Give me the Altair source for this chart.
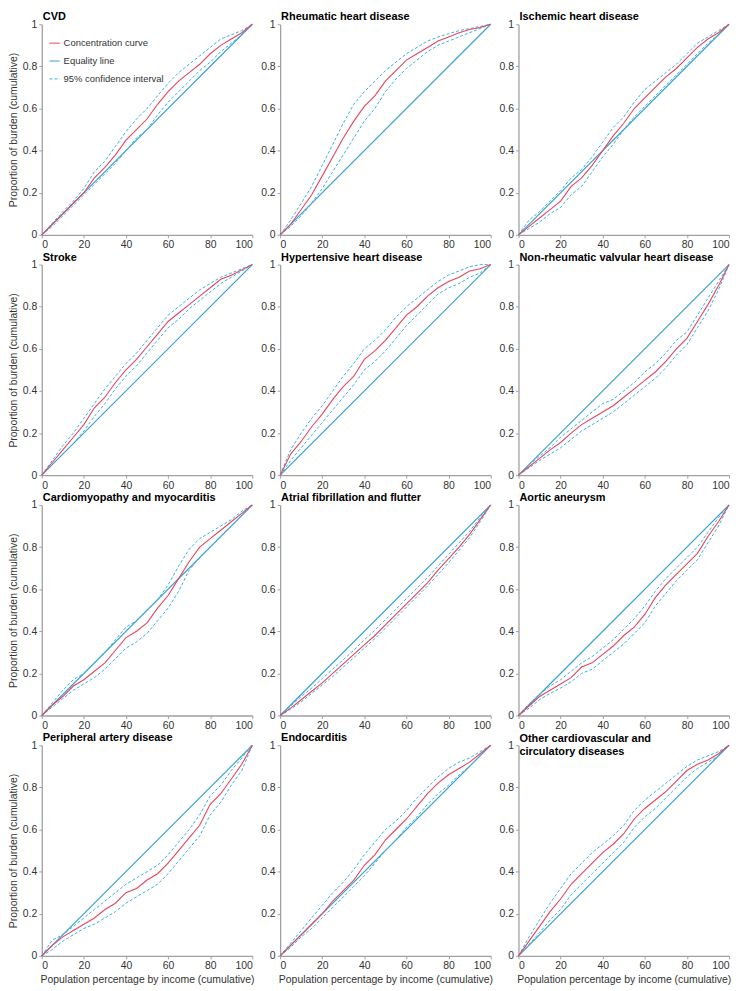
import altair as alt
import pandas as pd

# Population percentage by income (cumulative) sample points
X = [0, 5, 10, 15, 20, 25, 30, 35, 40, 45, 50, 55, 60, 65, 70, 75, 80, 85, 90, 95, 100]

TITLES = [
    "CVD",
    "Rheumatic heart disease",
    "Ischemic heart disease",
    "Stroke",
    "Hypertensive heart disease",
    "Non-rheumatic valvular heart disease",
    "Cardiomyopathy and myocarditis",
    "Atrial fibrillation and flutter",
    "Aortic aneurysm",
    "Peripheral artery disease",
    "Endocarditis",
    ["Other cardiovascular and", "circulatory diseases"],
]

# concentration curve, upper CI, lower CI for each panel
cvd_conc = [0, 0.05, 0.10, 0.15, 0.20, 0.27, 0.32, 0.38, 0.45, 0.50, 0.55, 0.62, 0.68, 0.73, 0.77, 0.81, 0.86, 0.90, 0.93, 0.96, 1]
cvd_hi = [0, 0.055, 0.11, 0.16, 0.22, 0.30, 0.35, 0.42, 0.49, 0.55, 0.60, 0.66, 0.72, 0.77, 0.81, 0.85, 0.89, 0.93, 0.95, 0.97, 1]
cvd_lo = [0, 0.04, 0.09, 0.14, 0.19, 0.24, 0.29, 0.34, 0.40, 0.46, 0.50, 0.57, 0.63, 0.68, 0.73, 0.78, 0.82, 0.87, 0.91, 0.95, 1]

rhd_conc = [0, 0.05, 0.12, 0.19, 0.28, 0.37, 0.46, 0.54, 0.61, 0.66, 0.73, 0.78, 0.83, 0.86, 0.89, 0.92, 0.94, 0.96, 0.975, 0.985, 1]
rhd_hi = [0, 0.07, 0.15, 0.23, 0.33, 0.43, 0.53, 0.62, 0.68, 0.73, 0.78, 0.82, 0.86, 0.89, 0.92, 0.94, 0.955, 0.97, 0.98, 0.99, 1]
rhd_lo = [0, 0.04, 0.09, 0.15, 0.22, 0.30, 0.38, 0.46, 0.54, 0.60, 0.68, 0.74, 0.79, 0.83, 0.87, 0.90, 0.92, 0.94, 0.96, 0.98, 1]

ihd_conc = [0, 0.04, 0.08, 0.12, 0.16, 0.23, 0.27, 0.33, 0.40, 0.47, 0.53, 0.60, 0.65, 0.70, 0.75, 0.79, 0.84, 0.89, 0.93, 0.96, 1]
ihd_hi = [0, 0.07, 0.11, 0.16, 0.21, 0.27, 0.31, 0.37, 0.44, 0.51, 0.56, 0.63, 0.69, 0.73, 0.77, 0.81, 0.86, 0.91, 0.94, 0.97, 1]
ihd_lo = [0, 0.03, 0.06, 0.10, 0.13, 0.19, 0.23, 0.30, 0.37, 0.43, 0.50, 0.56, 0.61, 0.66, 0.71, 0.76, 0.81, 0.86, 0.91, 0.95, 1]

stroke_conc = [0, 0.06, 0.12, 0.18, 0.24, 0.32, 0.37, 0.44, 0.50, 0.55, 0.61, 0.67, 0.73, 0.77, 0.81, 0.85, 0.89, 0.93, 0.95, 0.975, 1]
stroke_hi = [0, 0.07, 0.14, 0.20, 0.27, 0.34, 0.41, 0.47, 0.53, 0.58, 0.64, 0.70, 0.76, 0.80, 0.84, 0.88, 0.91, 0.94, 0.96, 0.98, 1]
stroke_lo = [0, 0.05, 0.10, 0.15, 0.21, 0.28, 0.34, 0.41, 0.47, 0.52, 0.58, 0.64, 0.70, 0.74, 0.79, 0.83, 0.87, 0.91, 0.94, 0.97, 1]

hhd_conc = [0, 0.10, 0.16, 0.23, 0.29, 0.36, 0.42, 0.47, 0.55, 0.59, 0.64, 0.70, 0.76, 0.80, 0.85, 0.89, 0.92, 0.94, 0.97, 0.98, 1]
hhd_hi = [0, 0.12, 0.20, 0.27, 0.33, 0.40, 0.47, 0.53, 0.60, 0.64, 0.69, 0.75, 0.80, 0.84, 0.88, 0.92, 0.95, 0.97, 0.99, 1.0, 1]
hhd_lo = [0, 0.07, 0.13, 0.19, 0.25, 0.31, 0.37, 0.43, 0.50, 0.54, 0.59, 0.65, 0.71, 0.76, 0.81, 0.86, 0.89, 0.91, 0.94, 0.96, 1]

nrvhd_conc = [0, 0.04, 0.08, 0.12, 0.155, 0.20, 0.24, 0.27, 0.30, 0.33, 0.37, 0.41, 0.45, 0.49, 0.54, 0.60, 0.65, 0.73, 0.81, 0.90, 1]
nrvhd_hi = [0, 0.05, 0.09, 0.13, 0.18, 0.22, 0.26, 0.30, 0.34, 0.36, 0.40, 0.44, 0.49, 0.53, 0.58, 0.64, 0.68, 0.76, 0.84, 0.92, 1]
nrvhd_lo = [0, 0.035, 0.07, 0.10, 0.13, 0.17, 0.21, 0.24, 0.27, 0.30, 0.34, 0.38, 0.42, 0.46, 0.51, 0.57, 0.62, 0.70, 0.78, 0.88, 1]

cmp_conc = [0, 0.05, 0.09, 0.14, 0.17, 0.21, 0.25, 0.31, 0.37, 0.40, 0.44, 0.51, 0.57, 0.65, 0.73, 0.80, 0.84, 0.88, 0.92, 0.96, 1]
cmp_hi = [0, 0.06, 0.12, 0.17, 0.20, 0.25, 0.30, 0.36, 0.42, 0.45, 0.50, 0.55, 0.62, 0.71, 0.79, 0.84, 0.87, 0.90, 0.93, 0.97, 1]
cmp_lo = [0, 0.04, 0.08, 0.12, 0.15, 0.18, 0.22, 0.27, 0.32, 0.35, 0.39, 0.45, 0.51, 0.59, 0.69, 0.75, 0.80, 0.85, 0.90, 0.95, 1]

af_conc = [0, 0.035, 0.075, 0.115, 0.155, 0.20, 0.245, 0.29, 0.335, 0.38, 0.43, 0.48, 0.53, 0.58, 0.63, 0.69, 0.745, 0.80, 0.86, 0.93, 1]
af_hi = [0, 0.045, 0.09, 0.13, 0.175, 0.22, 0.265, 0.31, 0.36, 0.405, 0.455, 0.505, 0.555, 0.605, 0.655, 0.71, 0.765, 0.82, 0.875, 0.94, 1]
af_lo = [0, 0.03, 0.065, 0.105, 0.145, 0.185, 0.23, 0.275, 0.32, 0.365, 0.415, 0.465, 0.515, 0.565, 0.615, 0.67, 0.725, 0.785, 0.845, 0.92, 1]

aa_conc = [0, 0.045, 0.09, 0.12, 0.15, 0.18, 0.23, 0.25, 0.29, 0.33, 0.38, 0.42, 0.48, 0.56, 0.62, 0.67, 0.72, 0.77, 0.85, 0.92, 1]
aa_hi = [0, 0.055, 0.10, 0.14, 0.17, 0.21, 0.25, 0.28, 0.32, 0.36, 0.41, 0.46, 0.52, 0.59, 0.65, 0.70, 0.75, 0.80, 0.87, 0.94, 1]
aa_lo = [0, 0.035, 0.075, 0.105, 0.13, 0.16, 0.20, 0.22, 0.26, 0.30, 0.34, 0.39, 0.44, 0.52, 0.58, 0.64, 0.69, 0.74, 0.82, 0.90, 1]

pad_conc = [0, 0.05, 0.09, 0.12, 0.15, 0.18, 0.22, 0.25, 0.30, 0.32, 0.36, 0.39, 0.44, 0.50, 0.56, 0.62, 0.72, 0.77, 0.84, 0.91, 1]
pad_hi = [0, 0.075, 0.10, 0.14, 0.18, 0.22, 0.26, 0.30, 0.34, 0.37, 0.40, 0.43, 0.48, 0.54, 0.60, 0.67, 0.76, 0.81, 0.88, 0.94, 1]
pad_lo = [0, 0.03, 0.07, 0.10, 0.13, 0.15, 0.18, 0.21, 0.25, 0.28, 0.31, 0.34, 0.39, 0.45, 0.51, 0.57, 0.67, 0.73, 0.81, 0.88, 1]

endo_conc = [0, 0.05, 0.10, 0.15, 0.20, 0.26, 0.31, 0.36, 0.43, 0.48, 0.55, 0.60, 0.65, 0.71, 0.77, 0.82, 0.86, 0.89, 0.92, 0.96, 1]
endo_hi = [0, 0.06, 0.12, 0.18, 0.24, 0.30, 0.35, 0.41, 0.48, 0.54, 0.60, 0.64, 0.69, 0.75, 0.80, 0.85, 0.89, 0.92, 0.94, 0.97, 1]
endo_lo = [0, 0.04, 0.09, 0.13, 0.18, 0.23, 0.28, 0.33, 0.38, 0.44, 0.50, 0.55, 0.61, 0.66, 0.72, 0.77, 0.81, 0.86, 0.90, 0.95, 1]

other_conc = [0, 0.07, 0.14, 0.21, 0.27, 0.34, 0.39, 0.44, 0.49, 0.53, 0.58, 0.65, 0.70, 0.74, 0.78, 0.83, 0.88, 0.91, 0.93, 0.96, 1]
other_hi = [0, 0.09, 0.17, 0.25, 0.32, 0.39, 0.44, 0.49, 0.53, 0.57, 0.62, 0.69, 0.74, 0.78, 0.82, 0.86, 0.90, 0.93, 0.95, 0.97, 1]
other_lo = [0, 0.055, 0.11, 0.17, 0.22, 0.29, 0.34, 0.39, 0.44, 0.49, 0.54, 0.61, 0.66, 0.70, 0.75, 0.80, 0.85, 0.89, 0.92, 0.95, 1]

PANELS = [
    (cvd_conc, cvd_hi, cvd_lo),
    (rhd_conc, rhd_hi, rhd_lo),
    (ihd_conc, ihd_hi, ihd_lo),
    (stroke_conc, stroke_hi, stroke_lo),
    (hhd_conc, hhd_hi, hhd_lo),
    (nrvhd_conc, nrvhd_hi, nrvhd_lo),
    (cmp_conc, cmp_hi, cmp_lo),
    (af_conc, af_hi, af_lo),
    (aa_conc, aa_hi, aa_lo),
    (pad_conc, pad_hi, pad_lo),
    (endo_conc, endo_hi, endo_lo),
    (other_conc, other_hi, other_lo),
]

EQ_X = [0, 100]
EQ_Y = [0, 1]

SERIES = ["Concentration curve", "Equality line", "95% confidence interval"]
COLORS = ["#e4475f", "#3aa2d6", "#3aaedc"]
DASHES = [[], [], [3, 2]]

FONT = "Liberation Sans"
W = 212
H = 212

panels = []
for i, (title, (conc, hi, lo)) in enumerate(zip(TITLES, PANELS)):
    rows = []
    for xv, yv in zip(EQ_X, EQ_Y):
        rows.append({"x": xv, "y": yv, "series": SERIES[1], "line": "eq"})
    for xv, a, b in zip(X, hi, lo):
        rows.append({"x": xv, "y": a, "series": SERIES[2], "line": "hi"})
        rows.append({"x": xv, "y": b, "series": SERIES[2], "line": "lo"})
    for xv, c in zip(X, conc):
        rows.append({"x": xv, "y": c, "series": SERIES[0], "line": "conc"})
    df = pd.DataFrame(rows)

    col = i % 3
    row = i // 3
    xtitle = "Population percentage by income (cumulative)" if row == 3 else ""
    ytitle = "Proportion of burden (cumulative)" if col == 0 else ""

    enc = dict(
        x=alt.X("x:Q", scale=alt.Scale(domain=[0, 100], nice=False),
                axis=alt.Axis(values=[0, 20, 40, 60, 80, 100], format="d", title=xtitle)),
        y=alt.Y("y:Q", scale=alt.Scale(domain=[0, 1], nice=False),
                axis=alt.Axis(values=[0, 0.2, 0.4, 0.6, 0.8, 1], format="~g", title=ytitle)),
        color=alt.Color("series:N", scale=alt.Scale(domain=SERIES, range=COLORS),
                        legend=alt.Legend(title="", orient="none", legendX=7, legendY=13)),
        strokeDash=alt.StrokeDash("series:N", scale=alt.Scale(domain=SERIES, range=DASHES),
                                  legend=alt.Legend(title="", orient="none", legendX=7, legendY=13)),
        detail="line:N",
    )
    eq = alt.Chart(df).mark_line(strokeWidth=1.2).encode(**enc).transform_filter(
        alt.datum.series == SERIES[1])
    ci = alt.Chart(df).mark_line(strokeWidth=1).encode(**enc).transform_filter(
        alt.datum.series == SERIES[2])
    cc = alt.Chart(df).mark_line(strokeWidth=1.1).encode(**enc).transform_filter(
        alt.datum.series == SERIES[0])
    tp = alt.TitleParams(text=title, anchor="start", frame="group", dx=1,
                         offset=(-17 if isinstance(title, list) else -3))
    panels.append(alt.layer(eq, ci, cc).properties(width=W, height=H, title=tp))

chart = alt.concat(*panels, columns=3, spacing={"row": 30, "column": 28}, bounds="flush").properties(
    padding=0
).configure_view(stroke=None).configure_axis(
    grid=False,
    domainColor="#a0a0a0",
    domainWidth=1.3,
    tickColor="#a0a0a0",
    tickSize=3,
    labelPadding=2,
    labelColor="#333333",
    labelFont=FONT,
    labelFontSize=10.5,
    titleFont=FONT,
    titleFontSize=10.5,
    titleFontWeight="normal",
    titleColor="#333333",
    titlePadding=3,
).configure_axisY(
    titlePadding=4,
).configure_title(
    font=FONT,
    fontSize=11,
    fontWeight="bold",
    color="#000000",
    lineHeight=13,
).configure_legend(
    labelFont=FONT,
    labelFontSize=9.5,
    labelColor="#333333",
    symbolType="stroke",
    symbolSize=110,
    symbolStrokeWidth=1,
    rowPadding=7,
    labelOffset=3,
    padding=0,
)

chart.save("out.html", embed_options={"renderer": "svg", "actions": False})
